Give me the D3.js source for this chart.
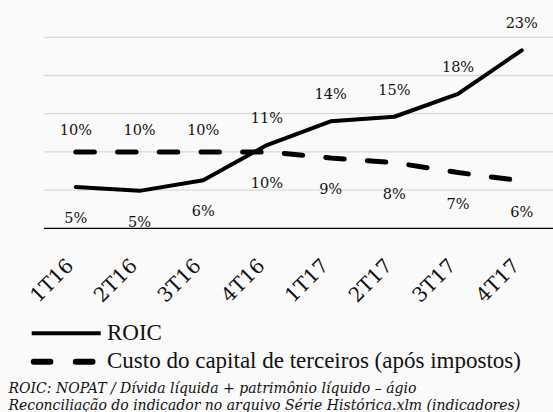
<!DOCTYPE html>
<html>
<head>
<meta charset="utf-8">
<script src="https://cdn.jsdelivr.net/npm/d3@7"></script>
<style>
  body { margin: 0; background: #fafafa; }
  svg { display: block; }
</style>
</head>
<body>
<script>
// quarters and the two series (in %)
var quarters = ["1T16", "2T16", "3T16", "4T16", "1T17", "2T17", "3T17", "4T17"];
var roic = [5.4, 4.9, 6.3, 10.9, 14.0, 14.6, 17.6, 23.3];
var roicLabels = ["5%", "5%", "6%", "11%", "14%", "15%", "18%", "23%"];
var custo = [10.0, 10.0, 10.0, 10.0, 9.2, 8.6, 7.3, 6.2];
var custoLabels = ["10%", "10%", "10%", "10%", "9%", "8%", "7%", "6%"];
var gridTicks = [0, 5, 10, 15, 20, 25];

var w = 553, h = 412;

var svg = d3.select("body")
            .append("svg")
            .attr("width", w)
            .attr("height", h);

var x = d3.scaleBand()
          .domain(quarters)
          .range([44, 553.6]);

var y = d3.scaleLinear()
          .domain([0, 25])
          .range([228.3, 37.3]);

var cx = function (d, i) { return x(quarters[i]) + x.bandwidth() / 2; };

// gridlines
svg.append("g")
   .selectAll("line")
   .data(gridTicks.slice(1))
   .enter()
   .append("line")
   .attr("x1", 44)
   .attr("x2", w)
   .attr("y1", function (d) { return y(d); })
   .attr("y2", function (d) { return y(d); })
   .attr("stroke", "#d9d9d9")
   .attr("stroke-width", 1.3);

// baseline
svg.append("line")
   .attr("x1", 44)
   .attr("x2", w)
   .attr("y1", y(0))
   .attr("y2", y(0))
   .attr("stroke", "#000")
   .attr("stroke-width", 1.3);

var line = d3.line()
             .x(cx)
             .y(function (d) { return y(d); });

svg.append("path")
   .datum(custo)
   .attr("d", line)
   .attr("fill", "none")
   .attr("stroke", "#000")
   .attr("stroke-width", 5)
   .attr("stroke-linecap", "round")
   .attr("stroke-dasharray", "18.5,23.2");

svg.append("path")
   .datum(roic)
   .attr("d", line)
   .attr("fill", "none")
   .attr("stroke", "#000")
   .attr("stroke-width", 4)
   .attr("stroke-linecap", "round")
   .attr("stroke-linejoin", "round");

var labelFont = "'DejaVu Serif', Georgia, serif";

// data labels: outer side of the pair
function addLabels(vals, labels, other, upOff) {
  svg.append("g")
     .selectAll("text")
     .data(vals)
     .enter()
     .append("text")
     .attr("x", cx)
     .attr("y", function (d, i) {
       var above = d >= other[i];
       return above ? y(d) - upOff : y(d) + 36;
     })
     .attr("text-anchor", "middle")
     .attr("font-family", labelFont)
     .attr("font-size", 14.5)
     .attr("fill", "#111")
     .text(function (d, i) { return labels[i]; });
}
addLabels(roic, roicLabels, custo, 22);
addLabels(custo, custoLabels, roic, 17);

// rotated category labels
svg.append("g")
   .selectAll("text")
   .data(quarters)
   .enter()
   .append("text")
   .attr("transform", function (d) {
     return "translate(" + (x(d) + x.bandwidth() / 2 - 1) + ",267) rotate(-45)";
   })
   .attr("text-anchor", "end")
   .attr("font-family", labelFont)
   .attr("font-size", 20)
   .attr("fill", "#111")
   .text(function (d) { return d; });

// legend
var legend = [
  { name: "ROIC", dash: null, width: 4, y: 333.3 },
  { name: "Custo do capital de terceiros (após impostos)", dash: "16.7,25.4", width: 6, y: 361.7 }
];

var lg = svg.append("g");
lg.selectAll("line")
  .data(legend)
  .enter()
  .append("line")
  .attr("x1", function (d) { return d.dash ? 33.7 : 31.7; })
  .attr("x2", function (d) { return d.dash ? 93 : 100.7; })
  .attr("y1", function (d) { return d.y; })
  .attr("y2", function (d) { return d.y; })
  .attr("stroke", "#000")
  .attr("stroke-width", function (d) { return d.width; })
  .attr("stroke-linecap", function (d) { return d.dash ? "round" : "butt"; })
  .attr("stroke-dasharray", function (d) { return d.dash; });

lg.selectAll("text")
  .data(legend)
  .enter()
  .append("text")
  .attr("x", 107)
  .attr("y", function (d) { return d.y + 6.5; })
  .attr("font-family", "'Liberation Serif', 'Times New Roman', serif")
  .attr("font-size", 23)
  .attr("fill", "#111")
  .text(function (d) { return d.name; });

// footnotes
var notes = [
  "ROIC: NOPAT / Dívida líquida + patrimônio líquido – ágio",
  "Reconciliação do indicador no arquivo Série Histórica.xlm (indicadores)"
];
svg.append("g")
   .selectAll("text")
   .data(notes)
   .enter()
   .append("text")
   .attr("x", 8.5)
   .attr("y", function (d, i) { return 393 + i * 17; })
   .attr("font-family", "'DejaVu Serif', Georgia, serif")
   .attr("font-style", "italic")
   .attr("font-size", 14)
   .attr("fill", "#111")
   .text(function (d) { return d; });
</script>
</body>
</html>
